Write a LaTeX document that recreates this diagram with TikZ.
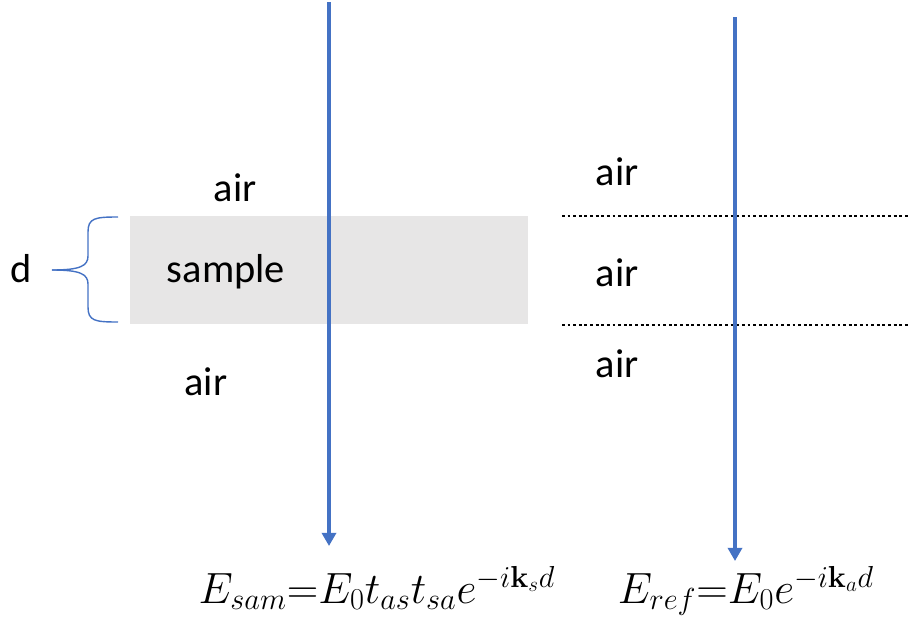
\documentclass[tikz,border=0pt]{standalone}
\usepackage[no-math]{fontspec}
\setmainfont{Carlito}
\usetikzlibrary{arrows.meta}

\definecolor{beamblue}{HTML}{4472C4}
\definecolor{slabgray}{HTML}{E7E6E6}

\begin{document}
\begin{tikzpicture}[
  x=0.02cm, y=-0.02cm,
  every node/.style={font=\fontsize{23}{28}\selectfont, inner sep=0pt},
  lbl/.style={anchor=base},
  eqn/.style={anchor=base, font=\fontsize{25}{30}\selectfont},
  slab/.style={fill=slabgray, draw=none},
  beam/.style={draw=beamblue, line width=2pt,
               -{Triangle[width=8pt,length=7.5pt]}},
  iface/.style={line width=1.6pt, dash pattern=on 1.6pt off 1.6pt},
  bracket/.style={draw=beamblue, line width=0.8pt}
]
\useasboundingbox (0,0) rectangle (909,632);

% sample slab
\path[slab] (130,216) rectangle (528,324);

% reference interfaces
\coordinate (ifaceAl) at (562,216);
\coordinate (ifaceAr) at (909,216);
\coordinate (ifaceBl) at (562,325);
\coordinate (ifaceBr) at (909,325);
\draw[iface] (ifaceAl) -- (ifaceAr);
\draw[iface] (ifaceBl) -- (ifaceBr);

% labels
\node[lbl] (airSamTop) at (235,201) {air};
\node[lbl] (sample)    at (226,282) {sample};
\node[lbl] (airSamBot) at (206,395) {air};
\node[lbl] (airRefTop) at (617,185) {air};
\node[lbl] (airRefMid) at (617,286) {air};
\node[lbl] (airRefBot) at (617,377) {air};
\node[lbl] (thick)     at (21,282)  {d};

% thickness brace
\coordinate (braceTop) at (118,217);
\coordinate (braceBot) at (118,322);
\coordinate (braceTip) at (52,270);
\draw[bracket] (braceTop) .. controls (95,217) and (88,218) .. (88,232)
  -- (88,256) .. controls (88,266) and (80,270) .. (braceTip);
\draw[bracket] (braceBot) .. controls (95,322) and (88,321) .. (88,307)
  -- (88,284) .. controls (88,274) and (80,270) .. (braceTip);

% beams
\coordinate (samTop) at (329,2);
\coordinate (samBot) at (329,546);
\coordinate (refTop) at (735,17);
\coordinate (refBot) at (735,561);
\draw[beam] (samTop) -- (samBot);
\draw[beam] (refTop) -- (refBot);

% fields
\node[eqn] (Esam) at (377,603)
  {$E_{sam}{=}E_0t_{as}t_{sa}e^{-i\mathbf{k}_s d}$};
\node[eqn] (Eref) at (746,603)
  {$E_{ref}{=}E_0e^{-i\mathbf{k}_a d}$};

\end{tikzpicture}
\end{document}
